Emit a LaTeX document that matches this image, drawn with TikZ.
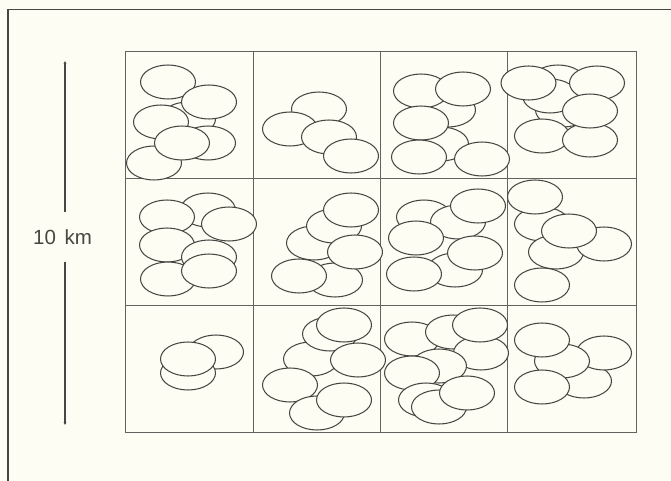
\documentclass[tikz,border=0pt]{standalone}
\usepackage{fontspec}
\setmainfont{Liberation Sans}
\usepackage{tikz}
\usetikzlibrary{arrows.meta,calc,positioning}
\definecolor{paper}{RGB}{253,253,244}
\definecolor{ink}{RGB}{70,70,66}

\begin{document}
\begin{tikzpicture}[x=1pt,y=-1pt,
  frame/.style={ink,line width=1.7pt},
  cellline/.style={ink!85,line width=0.8pt},
  blob/.style={ink,line width=1.05pt,fill=paper},
  bar/.style={ink,line width=1.2pt,-{Stealth[length=3pt,width=2.8pt]}}]
 \useasboundingbox (0,0) rectangle (671,481);
 \clip (0,0) rectangle (671,481);
 \fill[paper] (0,0) rectangle (671,481);
 \draw[frame] (8,9.5) rectangle (700,510);
 % grid of 4x3 cells
 \draw[cellline] (125,51) rectangle (636,432);
 \foreach \gx in {253,380,507.5} \draw[cellline] (\gx,51) -- (\gx,432);
 \foreach \gy in {178,305} \draw[cellline] (125,\gy) -- (636,\gy);
 % ellipses, back to front in each cell
 \foreach \ex/\ey in {188/119,168/82,161/122,209/102,208/143,154/163,182/143,
   319/109,290/129,329/137,351/156,
   448/110,421/91,463/89,441/144,421/123,419/157,482/159,
   558/82,563/110,550/96,528.5/83,597/83,542/136,590/140,590/111,
   208/210,167/217,229/224,167/245,209/257,168/279,209/271,
   314/243,334/226,351/210,335/280,355/252,299/276,
   424/217,458/222,478/206,416/238,455/270,475/253,414/274,
   542/224,535/197,556/252,604/244,569/231,542/285,
   216/352,188/373,188/359,
   311/359,330/334,344/325,358/360,290/385,317/413,344/400,
   412/339,453/332,481/353,480/325,439/366,412/373,426/400,439/407,467/393,
   584/381,604/353,562/361,542/340,542/387}
   \draw[blob] (\ex,\ey) ellipse [x radius=27.5pt,y radius=17pt];
 % scale bar
 \node[inner xsep=0pt,inner ysep=17pt,font=\fontsize{20.5}{24}\selectfont,text=ink]
   (scale) at (62.5,237) {10\hspace{0.42em}km};
 \coordinate (bartop) at (65,61);
 \coordinate (barbot) at (65,425);
 \draw[bar] (scale.north -| bartop) -- (bartop);
 \draw[bar] (scale.south -| barbot) -- (barbot);
\end{tikzpicture}
\end{document}
